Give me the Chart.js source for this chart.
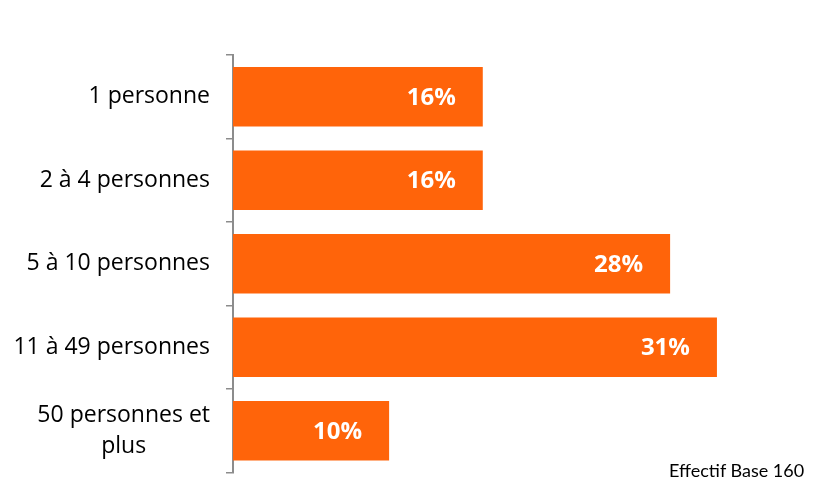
<!DOCTYPE html>
<html>
<head>
<meta charset="utf-8">
<script src="https://cdn.jsdelivr.net/npm/chart.js@4"></script>
<style>
  html, body { margin: 0; padding: 0; background: #fff; }
  #wrap { position: relative; width: 831px; height: 484px; }
  #chart { display: block; }
  #note { position: absolute; left: 669px; top: 459px; font: 18px Lato, sans-serif; color: #000; }
</style>
</head>
<body>
<div id="wrap">
  <canvas id="chart" width="831" height="484"></canvas>
  <div id="note">Effectif Base 160</div>
</div>
<script>
// ============================================
// Data
// ============================================
const categories = ['1 personne', '2 à 4 personnes', '5 à 10 personnes', '11 à 49 personnes', ['50 personnes et', 'plus']];
const shares = [16, 16, 28, 31, 10];
const valueLabels = ['16%', '16%', '28%', '31%', '10%'];

const BAR_COLOR = '#FF640A';
const FONT = '"Open Sans", sans-serif';

// Category labels drawn left of the axis, each multi-line block centered on itself
const categoryLabels = {
    id: 'categoryLabels',
    afterDraw(chart) {
        const ctx = chart.ctx;
        const yScale = chart.scales.y;
        const right = yScale.right - 7 - 16;
        ctx.save();
        ctx.font = '23px ' + FONT;
        ctx.fillStyle = '#000';
        ctx.textBaseline = 'middle';
        ctx.textAlign = 'center';
        categories.forEach(function(label, i) {
            const lines = Array.isArray(label) ? label : [label];
            const width = Math.max.apply(null, lines.map(l => ctx.measureText(l).width));
            const cx = right - width / 2;
            const lh = 31;
            const y0 = yScale.getPixelForTick(i) - (lines.length - 1) * lh / 2;
            lines.forEach(function(line, j) {
                ctx.fillText(line, cx, y0 + j * lh);
            });
        });
        ctx.restore();
    }
};

// Value labels inside the bar end
const valueText = {
    id: 'valueText',
    afterDatasetsDraw(chart) {
        const ctx = chart.ctx;
        const meta = chart.getDatasetMeta(0);
        ctx.save();
        ctx.font = 'bold 24px ' + FONT;
        ctx.fillStyle = '#fff';
        ctx.textBaseline = 'middle';
        ctx.textAlign = 'right';
        meta.data.forEach(function(bar, i) {
            ctx.fillText(valueLabels[i], bar.x - 27, bar.y + 1);
        });
        ctx.restore();
    }
};

new Chart(document.getElementById('chart'), {
    type: 'bar',
    data: {
        labels: categories,
        datasets: [{
            data: shares,
            backgroundColor: BAR_COLOR,
            borderWidth: 0,
            categoryPercentage: 1,
            barPercentage: 0.71
        }]
    },
    options: {
        indexAxis: 'y',
        responsive: false,
        animation: false,
        layout: { padding: { left: 0, right: 36, top: 55, bottom: 11.5 } },
        plugins: {
            legend: { display: false },
            tooltip: { enabled: false }
        },
        scales: {
            x: {
                display: false,
                min: 0,
                max: 36
            },
            y: {
                afterFit(scale) { scale.width = 233; },
                offset: true,
                border: { display: true, color: '#8c8c8c', width: 2 },
                grid: {
                    offset: true,
                    drawOnChartArea: false,
                    drawTicks: true,
                    tickLength: 7,
                    color: '#8c8c8c',
                    lineWidth: 1.5
                },
                ticks: { display: false }
            }
        }
    },
    plugins: [categoryLabels, valueText]
});
</script>
</body>
</html>
